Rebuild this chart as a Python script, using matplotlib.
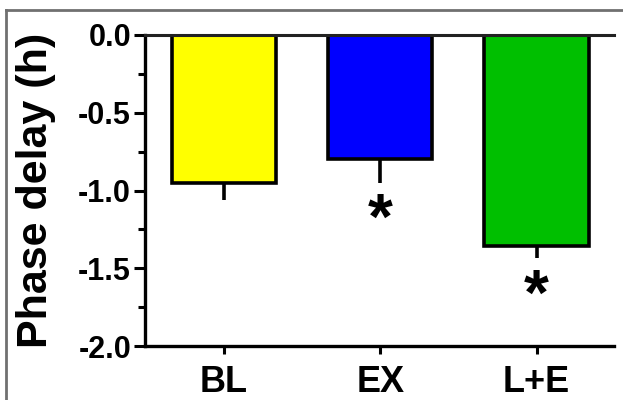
import matplotlib.pyplot as plt
from matplotlib.lines import Line2D
from matplotlib.ticker import MultipleLocator

# データ
groups = ['BL', 'EX', 'L+E']
delay = [-0.95, -0.80, -1.355]
sem = [0.11, 0.15, 0.08]
colors = ['#ffff00', '#0000ff', '#00bf00']
signif = ['', '*', '*']
star_y = [None, -1.20, -1.69]

plt.rcParams['font.family'] = ['Liberation Sans', 'DejaVu Sans']
plt.rcParams['font.weight'] = 'bold'

fig = plt.figure(figsize=(6.23, 4.00), dpi=100)
ax = fig.add_axes([145 / 623, 1 - 346 / 400, (614 - 145) / 623, (346 - 35) / 400])

x = list(range(len(groups)))
ax.bar(x, delay, width=0.666, color=colors, edgecolor='black', linewidth=2.6, zorder=2)

# エラーバー（下側のみ）
for xi, v, e in zip(x, delay, sem):
    ax.plot([xi, xi], [v, v - e], color='black', linewidth=2.6, solid_capstyle='butt', zorder=1)

# 有意差
for xi, s, sy in zip(x, signif, star_y):
    if s:
        ax.text(xi, sy, s, ha='center', va='center', fontsize=46, fontweight='bold')

ax.set_xlim(-0.506, 2.496)
ax.set_ylim(-2.0, 0.0)
ax.set_xticks(x)
ax.set_xticklabels(groups, fontsize=26, fontweight='bold')
ax.yaxis.set_minor_locator(MultipleLocator(0.25))
ax.set_yticks([-2.0, -1.5, -1.0, -0.5, 0.0])
ax.set_yticklabels(['-2.0', '-1.5', '-1.0', '-0.5', '0.0'], fontsize=22, fontweight='bold')

ax.tick_params(axis='y', which='major', length=8, width=2.2, pad=2)
ax.tick_params(axis='y', which='minor', length=5, width=2.2)
ax.tick_params(axis='x', length=6, width=2.2, pad=8)

ax.spines['right'].set_visible(False)
ax.spines['left'].set_linewidth(2.4)
ax.spines['bottom'].set_linewidth(2.4)
ax.spines['top'].set_linewidth(2.2)
ax.spines['top'].set_color('#222222')

ax.set_ylabel('Phase delay (h)', fontsize=31, fontweight='bold')
ax.yaxis.set_label_coords(-0.19, 0.5)

# 外枠（上と左だけ見える）
fig.add_artist(Line2D([6 / 623, 6 / 623], [0, 1 - 10 / 400], color='#707070', linewidth=2))
fig.add_artist(Line2D([6 / 623, 1], [1 - 10 / 400, 1 - 10 / 400], color='#707070', linewidth=2))

plt.savefig('out.png', dpi=100, facecolor='white')
